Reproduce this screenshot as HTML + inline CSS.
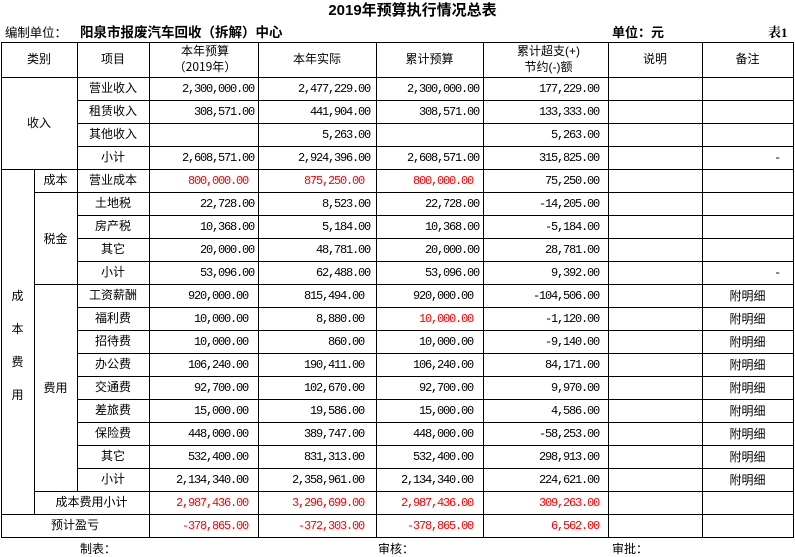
<!DOCTYPE html>
<html><head><meta charset="utf-8">
<style>
*{margin:0;padding:0;box-sizing:border-box}
html,body{width:795px;height:557px;background:#fff;overflow:hidden}
#p{position:relative;width:795px;height:557px;background:#fff;font-family:"Liberation Sans","Noto Sans CJK SC",sans-serif;color:#000}
.h{position:absolute;height:1px;background:#000}
.v{position:absolute;width:1px;background:#000}
.t{position:absolute;font-size:12px;line-height:22px;height:22px;text-align:center;white-space:nowrap;font-family:"Liberation Sans","Noto Sans CJK SC",sans-serif}
.n{position:absolute;font-family:"Liberation Mono",monospace;font-size:12px;letter-spacing:-1.2px;line-height:22px;height:22px;text-align:right;white-space:nowrap}
.r{color:#f00}
.cj{font-family:"Noto Sans CJK SC",sans-serif}
.pa{display:inline-block;width:12px;text-align:center}
.B{left:150px;width:104px}
.C{left:259px;width:111px}
.D{left:377px;width:102px}
.E{left:484px;width:115px}
.b{left:150px;width:98px}
.c{left:259px;width:105px}
.d{left:377px;width:96px}
</style></head><body><div id="p">
<div style="position:absolute;left:0;top:1px;width:795px;text-align:center;font-size:15px;font-weight:bold;line-height:20px;padding-left:30px;">2019年预算执行情况总表</div>
<div style="position:absolute;left:5px;top:24px;font-size:12.4px;line-height:18px;white-space:nowrap">编制单位：</div>
<div style="position:absolute;left:80px;top:24px;font-size:13.5px;font-weight:bold;line-height:18px;white-space:nowrap">阳泉市报废汽车回收（拆解）中心</div>
<div style="position:absolute;left:612px;top:24px;font-size:13px;font-weight:bold;line-height:18px;white-space:nowrap">单位：元</div>
<div style="position:absolute;left:768px;top:24px;font-size:13px;font-weight:bold;line-height:18px;white-space:nowrap;font-family:'Liberation Serif','Noto Serif CJK SC',serif">表1</div>

<div class="h" style="left:1px;width:793px;top:42px"></div>
<div class="h" style="left:1px;width:793px;top:77px"></div>
<div class="h" style="left:77px;width:717px;top:100px"></div>
<div class="h" style="left:77px;width:717px;top:123px"></div>
<div class="h" style="left:77px;width:717px;top:146px"></div>
<div class="h" style="left:1px;width:793px;top:169px"></div>
<div class="h" style="left:34px;width:760px;top:192px"></div>
<div class="h" style="left:77px;width:717px;top:215px"></div>
<div class="h" style="left:77px;width:717px;top:238px"></div>
<div class="h" style="left:77px;width:717px;top:261px"></div>
<div class="h" style="left:34px;width:760px;top:284px"></div>
<div class="h" style="left:77px;width:717px;top:307px"></div>
<div class="h" style="left:77px;width:717px;top:330px"></div>
<div class="h" style="left:77px;width:717px;top:353px"></div>
<div class="h" style="left:77px;width:717px;top:376px"></div>
<div class="h" style="left:77px;width:717px;top:399px"></div>
<div class="h" style="left:77px;width:717px;top:422px"></div>
<div class="h" style="left:77px;width:717px;top:445px"></div>
<div class="h" style="left:77px;width:717px;top:468px"></div>
<div class="h" style="left:34px;width:760px;top:491px"></div>
<div class="h" style="left:1px;width:793px;top:514px"></div>
<div class="h" style="left:1px;width:793px;top:537px"></div>

<div class="v" style="left:1px;top:42px;height:496px"></div>
<div class="v" style="left:34px;top:169px;height:346px"></div>
<div class="v" style="left:77px;top:42px;height:450px"></div>
<div class="v" style="left:149px;top:42px;height:496px"></div>
<div class="v" style="left:258px;top:42px;height:496px"></div>
<div class="v" style="left:376px;top:42px;height:496px"></div>
<div class="v" style="left:483px;top:42px;height:496px"></div>
<div class="v" style="left:608px;top:42px;height:496px"></div>
<div class="v" style="left:702px;top:42px;height:496px"></div>
<div class="v" style="left:793px;top:42px;height:496px"></div>

<div class="t" style="left:1px;width:76px;top:48px">类别</div>
<div class="t" style="left:77px;width:72px;top:48px">项目</div>
<div class="t" style="left:152px;width:106px;top:43px;line-height:16px;height:34px">本年预算<br><span class="cj"><span class="pa">（</span>2019年<span class="pa">）</span></span></div>
<div class="t" style="left:258px;width:118px;top:48px">本年实际</div>
<div class="t" style="left:376px;width:107px;top:48px">累计预算</div>
<div class="t" style="left:486px;width:125px;top:43px;line-height:16px;height:34px">累计超支(+)<br>节约(-)额</div>
<div class="t" style="left:608px;width:94px;top:48px">说明</div>
<div class="t" style="left:702px;width:91px;top:48px">备注</div>

<div class="t" style="left:1px;width:76px;top:112px">收入</div>
<div class="t" style="left:34px;width:43px;top:169px">成本</div>
<div class="t" style="left:34px;width:43px;top:228px">税金</div>
<div class="t" style="left:34px;width:43px;top:377px">费用</div>
<div class="t" style="left:1px;width:33px;top:280px;height:130px;line-height:33px">成<br>本<br>费<br>用</div>
<div class="t" style="left:34px;width:115px;top:491px">成本费用小计</div>
<div class="t" style="left:1px;width:148px;top:514px">预计盈亏</div>

<div class="t" style="left:77px;width:72px;top:77px">营业收入</div>
<div class="t" style="left:77px;width:72px;top:100px">租赁收入</div>
<div class="t" style="left:77px;width:72px;top:123px">其他收入</div>
<div class="t" style="left:77px;width:72px;top:146px">小计</div>
<div class="t" style="left:77px;width:72px;top:169px">营业成本</div>
<div class="t" style="left:77px;width:72px;top:192px">土地税</div>
<div class="t" style="left:77px;width:72px;top:215px">房产税</div>
<div class="t" style="left:77px;width:72px;top:238px">其它</div>
<div class="t" style="left:77px;width:72px;top:261px">小计</div>
<div class="t" style="left:77px;width:72px;top:284px">工资薪酬</div>
<div class="t" style="left:77px;width:72px;top:307px">福利费</div>
<div class="t" style="left:77px;width:72px;top:330px">招待费</div>
<div class="t" style="left:77px;width:72px;top:353px">办公费</div>
<div class="t" style="left:77px;width:72px;top:376px">交通费</div>
<div class="t" style="left:77px;width:72px;top:399px">差旅费</div>
<div class="t" style="left:77px;width:72px;top:422px">保险费</div>
<div class="t" style="left:77px;width:72px;top:445px">其它</div>
<div class="t" style="left:77px;width:72px;top:468px">小计</div>

<div class="n B" style="top:78px">2,300,000.00</div>
<div class="n C" style="top:78px">2,477,229.00</div>
<div class="n D" style="top:78px">2,300,000.00</div>
<div class="n E" style="top:78px">177,229.00</div>

<div class="n B" style="top:101px">308,571.00</div>
<div class="n C" style="top:101px">441,904.00</div>
<div class="n D" style="top:101px">308,571.00</div>
<div class="n E" style="top:101px">133,333.00</div>

<div class="n C" style="top:124px">5,263.00</div>
<div class="n E" style="top:124px">5,263.00</div>

<div class="n B" style="top:147px">2,608,571.00</div>
<div class="n C" style="top:147px">2,924,396.00</div>
<div class="n D" style="top:147px">2,608,571.00</div>
<div class="n E" style="top:147px">315,825.00</div>
<div class="n" style="left:703px;width:77px;top:147px">-</div>

<div class="n r b" style="top:170px">800,000.00</div>
<div class="n r c" style="top:170px">875,250.00</div>
<div class="n r d" style="top:170px">800,000.00</div>
<div class="n E" style="top:170px">75,250.00</div>

<div class="n B" style="top:193px">22,728.00</div>
<div class="n C" style="top:193px">8,523.00</div>
<div class="n D" style="top:193px">22,728.00</div>
<div class="n E" style="top:193px">-14,205.00</div>

<div class="n B" style="top:216px">10,368.00</div>
<div class="n C" style="top:216px">5,184.00</div>
<div class="n D" style="top:216px">10,368.00</div>
<div class="n E" style="top:216px">-5,184.00</div>

<div class="n B" style="top:239px">20,000.00</div>
<div class="n C" style="top:239px">48,781.00</div>
<div class="n D" style="top:239px">20,000.00</div>
<div class="n E" style="top:239px">28,781.00</div>

<div class="n B" style="top:262px">53,096.00</div>
<div class="n C" style="top:262px">62,488.00</div>
<div class="n D" style="top:262px">53,096.00</div>
<div class="n E" style="top:262px">9,392.00</div>
<div class="n" style="left:703px;width:77px;top:262px">-</div>

<div class="n b" style="top:285px">920,000.00</div>
<div class="n c" style="top:285px">815,494.00</div>
<div class="n d" style="top:285px">920,000.00</div>
<div class="n E" style="top:285px">-104,506.00</div>

<div class="n b" style="top:308px">10,000.00</div>
<div class="n c" style="top:308px">8,880.00</div>
<div class="n r d" style="top:308px">10,000.00</div>
<div class="n E" style="top:308px">-1,120.00</div>

<div class="n b" style="top:331px">10,000.00</div>
<div class="n c" style="top:331px">860.00</div>
<div class="n d" style="top:331px">10,000.00</div>
<div class="n E" style="top:331px">-9,140.00</div>

<div class="n b" style="top:354px">106,240.00</div>
<div class="n c" style="top:354px">190,411.00</div>
<div class="n d" style="top:354px">106,240.00</div>
<div class="n E" style="top:354px">84,171.00</div>

<div class="n b" style="top:377px">92,700.00</div>
<div class="n c" style="top:377px">102,670.00</div>
<div class="n d" style="top:377px">92,700.00</div>
<div class="n E" style="top:377px">9,970.00</div>

<div class="n b" style="top:400px">15,000.00</div>
<div class="n c" style="top:400px">19,586.00</div>
<div class="n d" style="top:400px">15,000.00</div>
<div class="n E" style="top:400px">4,586.00</div>

<div class="n b" style="top:423px">448,000.00</div>
<div class="n c" style="top:423px">389,747.00</div>
<div class="n d" style="top:423px">448,000.00</div>
<div class="n E" style="top:423px">-58,253.00</div>

<div class="n b" style="top:446px">532,400.00</div>
<div class="n c" style="top:446px">831,313.00</div>
<div class="n d" style="top:446px">532,400.00</div>
<div class="n E" style="top:446px">298,913.00</div>

<div class="n b" style="top:469px">2,134,340.00</div>
<div class="n c" style="top:469px">2,358,961.00</div>
<div class="n d" style="top:469px">2,134,340.00</div>
<div class="n E" style="top:469px">224,621.00</div>

<div class="n r b" style="top:492px">2,987,436.00</div>
<div class="n r c" style="top:492px">3,296,699.00</div>
<div class="n r d" style="top:492px">2,987,436.00</div>
<div class="n r E" style="top:492px">309,263.00</div>

<div class="n r b" style="top:515px">-378,865.00</div>
<div class="n r c" style="top:515px">-372,303.00</div>
<div class="n r d" style="top:515px">-378,865.00</div>
<div class="n r E" style="top:515px">6,562.00</div>

<div class="t" style="left:702px;width:91px;top:285px">附明细</div>
<div class="t" style="left:702px;width:91px;top:308px">附明细</div>
<div class="t" style="left:702px;width:91px;top:331px">附明细</div>
<div class="t" style="left:702px;width:91px;top:354px">附明细</div>
<div class="t" style="left:702px;width:91px;top:377px">附明细</div>
<div class="t" style="left:702px;width:91px;top:400px">附明细</div>
<div class="t" style="left:702px;width:91px;top:423px">附明细</div>
<div class="t" style="left:702px;width:91px;top:446px">附明细</div>
<div class="t" style="left:702px;width:91px;top:469px">附明细</div>

<div class="t" style="left:80px;width:36px;top:538px;text-align:left">制表：</div>
<div class="t" style="left:378px;width:36px;top:538px;text-align:left">审核：</div>
<div class="t" style="left:612px;width:36px;top:538px;text-align:left">审批：</div>
</div></body></html>
